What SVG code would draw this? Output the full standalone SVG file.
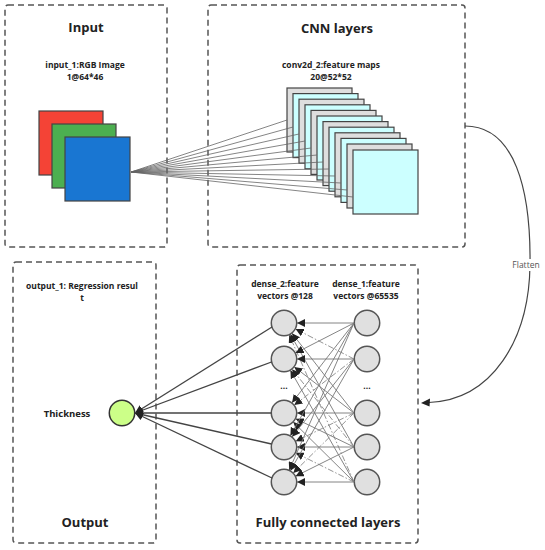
<svg xmlns="http://www.w3.org/2000/svg" width="545" height="550" viewBox="0 0 545 550">
<style>
.box{fill:none;stroke:#555;stroke-width:1.5;stroke-dasharray:6 4}
.title{font-family:"Open Sans","Noto Sans",sans-serif;font-weight:bold;font-size:13px;fill:#222;text-anchor:middle}
.lbl{font-family:"Open Sans","Noto Sans",sans-serif;font-weight:bold;font-size:8.5px;fill:#222;text-anchor:middle}
.fm0{fill:#dedede;stroke:#444;stroke-width:1.2}
.fm1{fill:#ccffff;stroke:#444;stroke-width:1.2}
.node{fill:#e0e0e0;stroke:#555;stroke-width:1.5}
.fan{stroke:#666;stroke-width:0.8;fill:none}
.fc{stroke:#777;stroke-width:0.9;fill:none;marker-end:url(#ah)}
.fcd{stroke:#888;stroke-width:0.9;fill:none;stroke-dasharray:6 2 1.5 2;marker-end:url(#ah)}
.out{stroke:#444;stroke-width:1.3;fill:none;marker-end:url(#ah)}
</style>
<defs>
<marker id="ah" markerUnits="userSpaceOnUse" markerWidth="9" markerHeight="8" refX="8" refY="4" orient="auto">
<path d="M0,0 L8,4 L0,8 z" fill="#222"/>
</marker>
</defs>
<rect width="545" height="550" fill="#fff"/>

<g id="input">
<rect class="box" x="5" y="5" width="162" height="242" rx="3"/>
<text class="title" x="86" y="32">Input</text>
<text class="lbl" x="85" y="67.5">input_1:RGB Image</text>
<text class="lbl" x="85" y="79.5">1@64*46</text>
<rect x="39" y="111" width="64" height="64" fill="#f44336" stroke="#444" stroke-width="1.2"/>
<rect x="52" y="124" width="64" height="64" fill="#4caf50" stroke="#444" stroke-width="1.2"/>
<rect x="65" y="137" width="65" height="64" fill="#1976d2" stroke="#444" stroke-width="1.2"/>
</g>

<g id="cnn">
<rect class="box" x="208" y="5" width="257" height="242" rx="3"/>
<text class="title" x="337" y="33">CNN layers</text>
<text class="lbl" x="331" y="67.5">conv2d_2:feature maps</text>
<text class="lbl" x="331" y="79.5">20@52*52</text>
<rect class="fm0" x="287" y="88" width="65" height="64"/>
<rect class="fm1" x="293" y="93.6" width="65" height="64"/>
<rect class="fm0" x="299" y="99.2" width="65" height="64"/>
<rect class="fm1" x="305" y="104.8" width="65" height="64"/>
<rect class="fm0" x="311" y="110.4" width="65" height="64"/>
<rect class="fm1" x="317" y="116" width="65" height="64"/>
<rect class="fm0" x="323" y="121.6" width="65" height="64"/>
<rect class="fm1" x="329" y="127.2" width="65" height="64"/>
<rect class="fm0" x="335" y="132.8" width="65" height="64"/>
<rect class="fm1" x="341" y="138.4" width="65" height="64"/>
<rect class="fm0" x="347" y="144" width="65" height="64"/>
<rect class="fm1" x="353" y="150" width="65" height="64"/>
</g>

<g id="output">
<rect class="box" x="13" y="262" width="143" height="281" rx="3"/>
<text class="lbl" x="82" y="289">output_1: Regression resul</text>
<text class="lbl" x="82" y="301">t</text>
<text class="lbl" x="67" y="417" style="font-size:9.5px">Thickness</text>
<circle cx="122" cy="413" r="12.7" fill="#ccff88" stroke="#333" stroke-width="1.5"/>
<text class="title" x="85" y="527">Output</text>
</g>

<g id="fc">
<rect class="box" x="237" y="265" width="181" height="278" rx="3"/>
<text class="lbl" x="285" y="287">dense_2:feature</text>
<text class="lbl" x="285" y="299">vectors @128</text>
<text class="lbl" x="366" y="287">dense_1:feature</text>
<text class="lbl" x="366" y="299">vectors @65535</text>
<circle class="node" cx="284" cy="323" r="12.7"/>
<circle class="node" cx="284" cy="359" r="12.7"/>
<circle class="node" cx="284" cy="413" r="12.7"/>
<circle class="node" cx="284" cy="447" r="12.7"/>
<circle class="node" cx="284" cy="482" r="12.7"/>
<circle class="node" cx="367" cy="323" r="12.7"/>
<circle class="node" cx="367" cy="359" r="12.7"/>
<circle class="node" cx="367" cy="413" r="12.7"/>
<circle class="node" cx="367" cy="447" r="12.7"/>
<circle class="node" cx="367" cy="482" r="12.7"/>
<text class="lbl" x="284" y="389">...</text>
<text class="lbl" x="367" y="389">...</text>
<text class="title" x="328" y="527">Fully connected layers</text>
</g>

<g id="connectors">
<path class="fan" d="M131,172 L287,120 M131,172 L293,127 M131,172 L299,134 M131,172 L305,141 M131,172 L311,148 M131,172 L317,155 M131,172 L323,162 M131,172 L329,169 M131,172 L335,176 M131,172 L341,183 M131,172 L347,190 M131,172 L353,197"/>

<line class="fc" x1="354" y1="323" x2="297" y2="323"/>
<line class="fcd" x1="354" y1="359" x2="295.6" y2="329"/>
<line class="fc" x1="354" y1="413" x2="292" y2="333.3"/>
<line class="fc" x1="354" y1="447" x2="290.4" y2="334.3"/>
<line class="fcd" x1="354" y1="482" x2="289.2" y2="334.9"/>

<line class="fc" x1="354" y1="323" x2="295.6" y2="353"/>
<line class="fc" x1="354" y1="359" x2="297" y2="359"/>
<line class="fc" x1="354" y1="413" x2="294.3" y2="366.9"/>
<line class="fcd" x1="354" y1="447" x2="292.1" y2="369.2"/>
<line class="fc" x1="354" y1="482" x2="290.4" y2="370.3"/>

<line class="fc" x1="354" y1="323" x2="292" y2="402.7"/>
<line class="fcd" x1="354" y1="359" x2="294.3" y2="405.1"/>
<line class="fc" x1="354" y1="413" x2="297" y2="413"/>
<line class="fc" x1="354" y1="447" x2="295.7" y2="418.7"/>
<line class="fc" x1="354" y1="482" x2="293.3" y2="422.1"/>

<line class="fc" x1="354" y1="323" x2="290.4" y2="435.7"/>
<line class="fc" x1="354" y1="359" x2="292.1" y2="436.8"/>
<line class="fcd" x1="354" y1="413" x2="295.7" y2="441.3"/>
<line class="fc" x1="354" y1="447" x2="297" y2="447"/>
<line class="fcd" x1="354" y1="482" x2="295.6" y2="452.8"/>

<line class="fc" x1="354" y1="323" x2="289.2" y2="470.1"/>
<line class="fc" x1="354" y1="359" x2="290.4" y2="470.7"/>
<line class="fcd" x1="354" y1="413" x2="293.3" y2="472.9"/>
<line class="fc" x1="354" y1="447" x2="295.6" y2="476.2"/>
<line class="fc" x1="354" y1="482" x2="297" y2="482"/>

<line class="out" x1="272" y1="327" x2="135" y2="413"/>
<line class="out" x1="271.5" y1="362" x2="135" y2="413"/>
<line class="out" x1="271.3" y1="413" x2="135" y2="413"/>
<line class="out" x1="271.5" y1="444" x2="135" y2="413"/>
<line class="out" x1="272" y1="478" x2="135" y2="413"/>

<path d="M465,126 C515,126 531,190 530,265 C529,340 492,400 429,402.5" fill="none" stroke="#444" stroke-width="1.2"/>
<path d="M421,403 L430,398.5 L429.5,406.5 z" fill="#222"/>
<rect x="511" y="259" width="32" height="12" fill="#fff"/>
<text x="526" y="268" style="font-family:'Open Sans','Noto Sans',sans-serif;font-size:8.5px;fill:#555;text-anchor:middle">Flatten</text>
</g>
</svg>
